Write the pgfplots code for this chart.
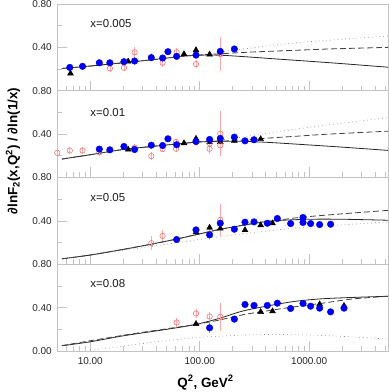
\documentclass[border=0pt]{standalone}
\usepackage{fontspec}
\setmainfont{Liberation Sans}
\usepackage{pgfplots}
\pgfplotsset{compat=1.18}
\definecolor{mblue}{RGB}{0,0,240}
\definecolor{mblueerr}{RGB}{140,140,255}
\definecolor{mred}{RGB}{250,110,110}
\definecolor{mpink}{RGB}{255,170,170}
\definecolor{framec}{RGB}{195,195,195}
\tikzset{lab/.style={anchor=west, inner sep=0pt, font=\fontsize{11.5}{13}\selectfont, text=black!90}}
\begin{document}
\begin{tikzpicture}
\useasboundingbox (0,0) rectangle (389bp,392bp);
% ---------------- panel 1: x=0.005
\begin{axis}[at={(57.3bp,301.25bp)}, anchor=south west,
    scale only axis, width=330.7bp, height=86.75bp,
    xmode=log, xmin=5, xmax=5240, ymin=0, ymax=0.8,
    axis line style={framec, line width=0.7bp},
    tick style={framec, line width=0.7bp},
    tick align=inside, xtick pos=bottom, ytick pos=left,
    major tick length=10bp, minor tick length=5bp,
    xtick={10,100,1000},
    minor xtick={6,7,8,9,20,30,40,50,60,70,80,90,200,300,400,500,600,700,800,900,2000,3000,4000,5000},
    minor ytick={0.2,0.6},
    ticklabel style={font=\fontsize{10}{12}\selectfont, text=black!85},
    yticklabel style={xshift=-2bp},
    xticklabels={}, ytick={0.4,0.8}, yticklabels={0.40,0.80}]
\addplot[black!45, line width=0.6bp, dash pattern=on 0.8bp off 3bp, smooth] coordinates {(5.5,0.205)(10,0.228)(20,0.258)(40,0.29)(70,0.318)(100,0.33)(200,0.372)(668,0.437)(2000,0.475)(5240,0.505)};
\addplot[black!85, line width=0.8bp, smooth] coordinates {(5.5,0.205)(10,0.228)(20,0.258)(40,0.29)(70,0.318)(100,0.328)(150,0.328)(250,0.315)(500,0.293)(1000,0.272)(2000,0.25)(5240,0.217)};
\addplot[black!75, line width=0.8bp, dash pattern=on 6bp off 3bp, smooth] coordinates {(5.5,0.205)(10,0.228)(20,0.258)(40,0.29)(70,0.318)(100,0.33)(160,0.342)(300,0.357)(700,0.372)(1500,0.385)(5240,0.40)};
\addplot[only marks, mark=triangle*, mark size=3.4bp, mark options={black, fill=black}] coordinates {(6.6,0.16)(22.2,0.271)(71.8,0.338)(92.4,0.375)(123,0.335)};
\addplot[only marks, mark=o, mark size=2.7bp, mark options={mred, line width=0.6bp},
  error bars/.cd, y dir=both, y explicit, error mark=none, error bar style={mpink, line width=0.6bp}]
  table[x=x,y=y,y error=e] {
x y e
15.1 0.206 0.03
20.3 0.212 0.03
25.4 0.354 0.05
36.1 0.310 0.04
45.8 0.258 0.04
61.5 0.354 0.04
92.4 0.246 0.04
154 0.338 0.16
};
\addplot[only marks, mark=*, mark size=3.3bp, mark options={draw=mblue, fill=mblue},
  error bars/.cd, y dir=both, y explicit, error mark=none, error bar style={mblueerr, line width=0.5bp}]
  table[x=x,y=y,y error=e] {
x y e
6.5 0.215 0.015
8.5 0.225 0.015
12.1 0.258 0.015
15.1 0.258 0.015
20.3 0.268 0.015
25.4 0.274 0.015
36.1 0.305 0.015
45.8 0.302 0.015
51.2 0.360 0.015
61.5 0.317 0.015
92.4 0.329 0.015
154 0.363 0.015
207 0.385 0.015
};
\node[lab] at (axis cs:10,0.62) {x=0.005};
\end{axis}
% ---------------- panel 2: x=0.01
\begin{axis}[at={(57.3bp,214.5bp)}, anchor=south west,
    scale only axis, width=330.7bp, height=86.75bp,
    xmode=log, xmin=5, xmax=5240, ymin=0, ymax=0.8,
    axis line style={framec, line width=0.7bp},
    tick style={framec, line width=0.7bp},
    tick align=inside, xtick pos=bottom, ytick pos=left,
    major tick length=10bp, minor tick length=5bp,
    xtick={10,100,1000},
    minor xtick={6,7,8,9,20,30,40,50,60,70,80,90,200,300,400,500,600,700,800,900,2000,3000,4000,5000},
    minor ytick={0.2,0.6},
    ticklabel style={font=\fontsize{10}{12}\selectfont, text=black!85},
    yticklabel style={xshift=-2bp},
    xticklabels={}, ytick={0.4,0.8}, yticklabels={0.40,0.80}]
\addplot[black!45, line width=0.6bp, dash pattern=on 0.8bp off 3bp, smooth] coordinates {(5.5,0.17)(10,0.21)(20,0.258)(50,0.30)(100,0.328)(150,0.345)(233,0.37)(500,0.42)(1343,0.48)(5240,0.552)};
\addplot[black!85, line width=0.8bp, smooth] coordinates {(5.5,0.17)(10,0.21)(20,0.258)(50,0.30)(100,0.328)(200,0.335)(400,0.325)(1000,0.30)(2000,0.28)(5240,0.25)};
\addplot[black!75, line width=0.8bp, dash pattern=on 6bp off 3bp, smooth] coordinates {(5.5,0.17)(10,0.21)(20,0.258)(50,0.30)(100,0.328)(200,0.34)(400,0.362)(700,0.378)(1500,0.40)(5240,0.427)};
\addplot[only marks, mark=triangle*, mark size=3.4bp, mark options={black, fill=black}] coordinates {(22.2,0.258)(71.8,0.317)(92.4,0.358)(123,0.328)(154,0.328)(207,0.338)(360,0.355)};
\addplot[only marks, mark=o, mark size=2.7bp, mark options={mred, line width=0.6bp},
  error bars/.cd, y dir=both, y explicit, error mark=none, error bar style={mpink, line width=0.6bp}]
  table[x=x,y=y,y error=e] {
x y e
5.0 0.228 0.02
6.5 0.249 0.03
8.5 0.249 0.03
12.1 0.232 0.03
25.4 0.275 0.03
36.1 0.197 0.04
45.8 0.262 0.03
60.7 0.327 0.03
60.7 0.265 0.03
92.4 0.327 0.04
123 0.314 0.07
123 0.265 0.05
154 0.404 0.21
154 0.296 0.06
};
\addplot[only marks, mark=*, mark size=3.3bp, mark options={draw=mblue, fill=mblue},
  error bars/.cd, y dir=both, y explicit, error mark=none, error bar style={mblueerr, line width=0.5bp}]
  table[x=x,y=y,y error=e] {
x y e
12.1 0.262 0.015
15.1 0.255 0.015
20.3 0.286 0.015
25.4 0.258 0.015
36.1 0.298 0.015
45.8 0.295 0.015
51.2 0.357 0.015
61.5 0.302 0.015
92.4 0.332 0.015
123 0.351 0.015
154 0.360 0.015
207 0.372 0.015
259 0.338 0.015
313 0.348 0.015
};
\node[lab] at (axis cs:10,0.60) {x=0.01};
\end{axis}
% ---------------- panel 3: x=0.05
\begin{axis}[at={(57.3bp,127.75bp)}, anchor=south west,
    scale only axis, width=330.7bp, height=86.75bp,
    xmode=log, xmin=5, xmax=5240, ymin=0, ymax=0.8,
    axis line style={framec, line width=0.7bp},
    tick style={framec, line width=0.7bp},
    tick align=inside, xtick pos=bottom, ytick pos=left,
    major tick length=10bp, minor tick length=5bp,
    xtick={10,100,1000},
    minor xtick={6,7,8,9,20,30,40,50,60,70,80,90,200,300,400,500,600,700,800,900,2000,3000,4000,5000},
    minor ytick={0.2,0.6},
    ticklabel style={font=\fontsize{10}{12}\selectfont, text=black!85},
    yticklabel style={xshift=-2bp},
    xticklabels={}, ytick={0.4,0.8}, yticklabels={0.40,0.80}]
\addplot[black!45, line width=0.6bp, dash pattern=on 0.8bp off 3bp, smooth] coordinates {(5.5,0.05)(10,0.085)(20,0.13)(36,0.165)(80,0.215)(200,0.27)(676,0.33)(1500,0.355)(5240,0.39)};
\addplot[black!85, line width=0.8bp, smooth] coordinates {(5.5,0.05)(10,0.085)(20,0.137)(36,0.185)(60,0.23)(92,0.272)(150,0.32)(205,0.345)(350,0.385)(511,0.403)(1000,0.415)(2000,0.415)(5240,0.406)};
\addplot[black!75, line width=0.8bp, dash pattern=on 6bp off 3bp, smooth] coordinates {(5.5,0.05)(10,0.085)(20,0.137)(36,0.185)(60,0.23)(92,0.272)(150,0.32)(205,0.345)(350,0.385)(511,0.405)(820,0.432)(2000,0.465)(5240,0.497)};
\addplot[only marks, mark=triangle*, mark size=3.4bp, mark options={black, fill=black}] coordinates {(92.4,0.295)(123,0.338)(154,0.330)(259,0.315)(360,0.360)(462,0.378)};
\addplot[only marks, mark=o, mark size=2.7bp, mark options={mred, line width=0.6bp},
  error bars/.cd, y dir=both, y explicit, error mark=none, error bar style={mpink, line width=0.6bp}]
  table[x=x,y=y,y error=e] {
x y e
36.1 0.194 0.065
45.8 0.262 0.05
123 0.283 0.06
154 0.409 0.15
};
\addplot[only marks, mark=*, mark size=3.3bp, mark options={draw=mblue, fill=mblue},
  error bars/.cd, y dir=both, y explicit, error mark=none, error bar style={mblueerr, line width=0.5bp}]
  table[x=x,y=y,y error=e] {
x y e
61.5 0.228 0.015
92.4 0.317 0.015
123 0.271 0.015
154 0.378 0.015
207 0.323 0.015
259 0.388 0.015
313 0.391 0.015
414 0.378 0.015
511 0.422 0.015
676 0.375 0.015
877 0.431 0.015
877 0.385 0.015
1029 0.375 0.015
1244 0.366 0.015
1567 0.369 0.015
};
\node[lab] at (axis cs:10,0.618) {x=0.05};
\end{axis}
% ---------------- panel 4: x=0.08
\begin{axis}[at={(57.3bp,41bp)}, anchor=south west,
    scale only axis, width=330.7bp, height=86.75bp,
    xmode=log, xmin=5, xmax=5240, ymin=0, ymax=0.8,
    axis line style={framec, line width=0.7bp},
    tick style={framec, line width=0.7bp},
    tick align=inside, xtick pos=bottom, ytick pos=left,
    major tick length=10bp, minor tick length=5bp,
    xtick={10,100,1000},
    minor xtick={6,7,8,9,20,30,40,50,60,70,80,90,200,300,400,500,600,700,800,900,2000,3000,4000,5000},
    minor ytick={0.2,0.6},
    ticklabel style={font=\fontsize{10}{12}\selectfont, text=black!85},
    yticklabel style={xshift=-2bp},
    xticklabel style={yshift=-3.5bp},
    ytick={0,0.4,0.8}, yticklabels={0.00,0.40,0.80},
    xticklabels={10.00,100.00,1000.00}]
\addplot[black!45, line width=0.6bp, dash pattern=on 0.8bp off 3bp, smooth] coordinates {(10,0.005)(20,0.045)(40,0.084)(90,0.122)(300,0.15)(800,0.15)(2000,0.135)(5240,0.11)};
\addplot[black!85, line width=0.8bp, smooth] coordinates {(5.5,0.048)(10,0.085)(20,0.14)(50,0.2)(92,0.245)(150,0.3)(250,0.37)(500,0.43)(800,0.462)(1500,0.485)(5240,0.505)};
\addplot[black!75, line width=0.8bp, dash pattern=on 6bp off 3bp, smooth] coordinates {(5.5,0.05)(20,0.145)(50,0.205)(92,0.245)(150,0.285)(250,0.335)(400,0.368)(700,0.405)(1300,0.44)(2500,0.48)(5240,0.505)};
\addplot[only marks, mark=triangle*, mark size=3.4bp, mark options={black, fill=black}] coordinates {(92.4,0.25)(360,0.361)(462,0.367)(1244,0.432)(2077,0.417)};
\addplot[only marks, mark=o, mark size=2.7bp, mark options={mred, line width=0.6bp},
  error bars/.cd, y dir=both, y explicit, error mark=none, error bar style={mpink, line width=0.6bp}]
  table[x=x,y=y,y error=e] {
x y e
61.5 0.263 0.04
92.4 0.346 0.04
123 0.318 0.04
154 0.315 0.13
};
\addplot[only marks, mark=*, mark size=3.3bp, mark options={draw=mblue, fill=mblue},
  error bars/.cd, y dir=both, y explicit, error mark=none, error bar style={mblueerr, line width=0.5bp}]
  table[x=x,y=y,y error=e] {
x y e
123 0.214 0.05
207 0.294 0.03
259 0.429 0.015
313 0.420 0.015
414 0.420 0.015
511 0.441 0.015
676 0.392 0.015
877 0.438 0.015
1029 0.413 0.015
1244 0.395 0.015
1567 0.361 0.015
2077 0.395 0.025
};
\node[lab] at (axis cs:10,0.618) {x=0.08};
\end{axis}
\node[rotate=90, font=\bfseries\fontsize{13.5}{16}\selectfont] at (13bp,241bp)
  {∂lnF\textsubscript{2}(x,Q\textsuperscript{2}) / ∂ln(1/x)};
\node[anchor=base, font=\bfseries\fontsize{13.5}{16}\selectfont] at (205.5bp,5bp)
  {Q\textsuperscript{2}, GeV\textsuperscript{2}};
\end{tikzpicture}
\end{document}
